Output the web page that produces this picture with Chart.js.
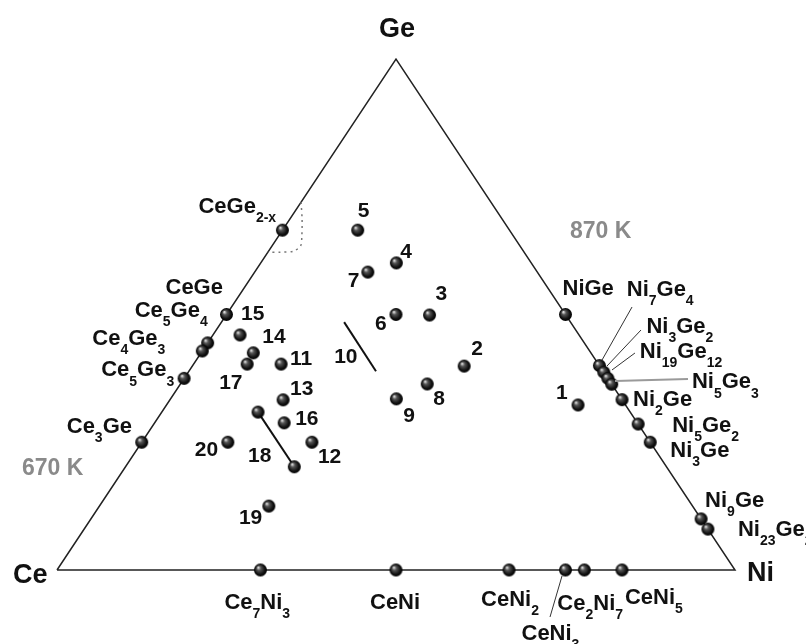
<!DOCTYPE html>
<html>
<head>
<meta charset="utf-8">
<script src="https://cdn.jsdelivr.net/npm/chart.js@4.4.1/dist/chart.umd.min.js"></script>
<style>
  html, body { margin: 0; padding: 0; background: #ffffff; }
  #wrap { width: 806px; height: 644px; }
</style>
</head>
<body>
<div id="wrap"><canvas id="c" width="806" height="644"></canvas></div>
<script>
// ---------------- DATA (mole fractions) ----------------
// Ce–Ge binary compounds: Ge fraction
const ceGeNames = ['CeGe_{2-x}', 'CeGe', 'Ce_5Ge_4', 'Ce_4Ge_3', 'Ce_5Ge_3', 'Ce_3Ge'];
const ceGeGe    = [0.665, 0.5, 0.4444, 0.4286, 0.375, 0.25];
// Ce–Ni binary compounds: Ni fraction
const ceNiNames = ['Ce_7Ni_3', 'CeNi', 'CeNi_2', 'CeNi_3', 'Ce_2Ni_7', 'CeNi_5'];
const ceNiNi    = [0.3, 0.5, 0.6667, 0.75, 0.7778, 0.8333];
// Ni–Ge binary compounds: Ge fraction
const niGeNames = ['NiGe', 'Ni_3Ge_2', 'Ni_{19}Ge_{12}', 'Ni_5Ge_3', 'Ni_7Ge_4', 'Ni_2Ge', 'Ni_5Ge_2', 'Ni_3Ge', 'Ni_9Ge', 'Ni_{23}Ge_2'];
const niGeGe    = [0.5, 0.4, 0.3871, 0.375, 0.3636, 0.3333, 0.2857, 0.25, 0.1, 0.08];
// Ternary samples (Ge, Ni fractions)
const sampleIds = ['1','2','3','4','5','6','7','8','9','11','12','13','14','15','16','17','19','20'];
const sampleGe  = [0.323,0.399,0.499,0.601,0.665,0.500,0.583,0.364,0.335,0.403,0.250,0.333,0.425,0.460,0.288,0.403,0.125,0.250];
const sampleNi  = [0.607,0.401,0.300,0.200,0.111,0.250,0.167,0.364,0.333,0.129,0.251,0.167,0.077,0.040,0.191,0.079,0.250,0.127];
// Sample 10 (tie line, no end points) and sample 18 (tie line with end points)
const sample10Ge = [0.485, 0.389];
const sample10Ni = [0.181, 0.276];
const sample18Ge = [0.309, 0.202];
const sample18Ni = [0.142, 0.249];
// Homogeneity boundary around CeGe2-x (dotted)
const homogGe = [0.720, 0.685, 0.650, 0.635, 0.624, 0.622, 0.622];
const homogNi = [0.000, 0.019, 0.036, 0.042, 0.037, 0.018, 0.000];
// Vertices (Ge, Ni)
const vertexNames = ['Ce', 'Ni', 'Ge'];
const vertexGe = [0, 0, 1];
const vertexNi = [0, 1, 0];
const isothermLabels = ['870 K', '670 K'];

// ---------------- LAYOUT (pixel offsets of labels, separate from data) ----------------
const ceGeLabelOff = [[-84,-17],[-61,-21],[-73,-26],[-110,-6],[-83,-2],[-75,-9]];
const ceNiLabelOff = [[-36,39],[-26,39],[-28,36],[-44,70],[-27,40],[3,34]];
const niGeLabelOff = [[-3,-20],[47,-33],[36,-14],[84,10],[15,-88],[11,6],[34,8],[20,15],[4,-12],[30,7]];
const niGeLeader = { 1:[41.6,-35.6,7.6,0.4], 2:[31.2,-19.2,8.2,-2.2], 3:[7.1,2.6,80.1,0.6], 4:[20.3,-77.2,-9.7,-24.2] };
const ceNiLeader = { 3:[-3.5,6,-15.5,47] };
const sampleLabelOff = [[-22,-6],[7,-11],[6,-15],[4,-5],[0,-13],[-21,15],[-20,15],[6,21],[7,23],[9,1],[6,21],[7,-5],[9,-10],[1,-15],[11,2],[-28,25],[-30,18],[-33,14]];
const label10Off = [-10, 41];
const label18Off = [-10, 50];

function toXY(ge, ni) { return { x: ni + ge / 2, y: ge }; }

const FONT = '"Liberation Sans", Arial, Helvetica, sans-serif';

function makeSphere(r) {
  const s = Math.ceil(r * 2) + 2;
  const c = document.createElement('canvas');
  c.width = s; c.height = s;
  const g = c.getContext('2d');
  const cx = s / 2, cy = s / 2;
  const grad = g.createRadialGradient(cx - r * 0.35, cy - r * 0.4, r * 0.05, cx, cy, r);
  grad.addColorStop(0, '#e6e6e6');
  grad.addColorStop(0.3, '#555');
  grad.addColorStop(0.75, '#111');
  grad.addColorStop(1, '#000');
  g.fillStyle = grad;
  g.beginPath(); g.arc(cx, cy, r, 0, Math.PI * 2); g.fill();
  return c;
}
const sphere = makeSphere(6.5);

const ceGePts = ceGeGe.map(g => toXY(g, 0));
const ceNiPts = ceNiNi.map(n => toXY(0, n));
const niGePts = niGeGe.map(g => toXY(g, 1 - g));
const samplePts = sampleGe.map((g, i) => toXY(g, sampleNi[i]));
const line10Pts = sample10Ge.map((g, i) => toXY(g, sample10Ni[i]));
const line18Pts = sample18Ge.map((g, i) => toXY(g, sample18Ni[i]));
const homogPts = homogGe.map((g, i) => toXY(g, homogNi[i]));
const vertexPts = vertexGe.map((g, i) => toXY(g, vertexNi[i]));
const trianglePts = [vertexPts[0], vertexPts[1], vertexPts[2], vertexPts[0]];

function drawFormula(ctx, str, x, y, size, color) {
  const subSize = Math.round(size * 0.62);
  const subDy = size * 0.42;
  const re = /_\{([^}]*)\}|_(.)|([^_]+)/g;
  let m, cx = x;
  ctx.fillStyle = color;
  ctx.textAlign = 'left';
  ctx.textBaseline = 'alphabetic';
  while ((m = re.exec(str))) {
    if (m[3] !== undefined) {
      ctx.font = 'bold ' + size + 'px ' + FONT;
      ctx.fillText(m[3], cx, y);
      cx += ctx.measureText(m[3]).width;
    } else {
      const t = m[1] !== undefined ? m[1] : m[2];
      ctx.font = 'bold ' + subSize + 'px ' + FONT;
      ctx.fillText(t, cx, y + subDy);
      cx += ctx.measureText(t).width;
    }
  }
}

const labelPlugin = {
  id: 'ternaryLabels',
  afterDatasetsDraw(chart) {
    const ctx = chart.ctx, xs = chart.scales.x, ys = chart.scales.y;
    const px = p => [xs.getPixelForValue(p.x), ys.getPixelForValue(p.y)];
    ctx.save();
    const lead = (p, L, color, w) => {
      const [x, y] = px(p);
      ctx.strokeStyle = color; ctx.lineWidth = w;
      ctx.beginPath(); ctx.moveTo(x + L[0], y + L[1]); ctx.lineTo(x + L[2], y + L[3]); ctx.stroke();
    };
    Object.keys(niGeLeader).forEach(k => {
      const i = +k;
      const isGray = niGeNames[i] === 'Ni_5Ge_3';
      lead(niGePts[i], niGeLeader[k], isGray ? '#9a9a9a' : '#333', isGray ? 2 : 1);
    });
    Object.keys(ceNiLeader).forEach(k => lead(ceNiPts[+k], ceNiLeader[k], '#333', 1));

    const SZ = 22, NSZ = 21;
    ceGeNames.forEach((n, i) => { const [x, y] = px(ceGePts[i]); drawFormula(ctx, n, x + ceGeLabelOff[i][0], y + ceGeLabelOff[i][1], SZ, '#111'); });
    ceNiNames.forEach((n, i) => { const [x, y] = px(ceNiPts[i]); drawFormula(ctx, n, x + ceNiLabelOff[i][0], y + ceNiLabelOff[i][1], SZ, '#111'); });
    niGeNames.forEach((n, i) => { const [x, y] = px(niGePts[i]); drawFormula(ctx, n, x + niGeLabelOff[i][0], y + niGeLabelOff[i][1], SZ, '#111'); });
    sampleIds.forEach((n, i) => { const [x, y] = px(samplePts[i]); drawFormula(ctx, n, x + sampleLabelOff[i][0], y + sampleLabelOff[i][1], NSZ, '#111'); });
    { const [x, y] = px(line10Pts[0]); drawFormula(ctx, '10', x + label10Off[0], y + label10Off[1], NSZ, '#111'); }
    { const [x, y] = px(line18Pts[0]); drawFormula(ctx, '18', x + label18Off[0], y + label18Off[1], NSZ, '#111'); }

    const vOff = [[-44, 13], [12, 11], [-17, -22]];
    vertexNames.forEach((n, i) => { const [x, y] = px(vertexPts[i]); drawFormula(ctx, n, x + vOff[i][0], y + vOff[i][1], 27, '#111'); });
    { const [x, y] = px(vertexPts[2]); drawFormula(ctx, isothermLabels[0], x + 174, y + 179, 23, '#8a8a8a'); }
    { const [x, y] = px(vertexPts[0]); drawFormula(ctx, isothermLabels[1], x - 35, y - 95, 23, '#8a8a8a'); }
    ctx.restore();
  }
};

const pointDS = (data) => ({
  data, showLine: false, pointStyle: sphere, pointRadius: 7, pointHoverRadius: 7, clip: false
});

new Chart(document.getElementById('c'), {
  type: 'scatter',
  data: {
    datasets: [
      pointDS(samplePts),
      pointDS(line18Pts),
      pointDS(ceGePts),
      pointDS(ceNiPts),
      pointDS(niGePts),
      { data: line18Pts, showLine: true, borderColor: '#111', borderWidth: 2, pointRadius: 0, clip: false },
      { data: line10Pts, showLine: true, borderColor: '#111', borderWidth: 2, pointRadius: 0, clip: false },
      { data: homogPts, showLine: true, borderColor: '#777', borderWidth: 1.5, borderDash: [2, 4], pointRadius: 0, tension: 0.3, clip: false },
      { data: trianglePts, showLine: true, borderColor: '#222', borderWidth: 1.5, pointRadius: 0, clip: false }
    ]
  },
  options: {
    responsive: false,
    devicePixelRatio: 1,
    animation: false,
    events: [],
    layout: { padding: { left: 57, right: 71, top: 59, bottom: 74 } },
    scales: {
      x: { type: 'linear', min: 0, max: 1, display: false },
      y: { type: 'linear', min: 0, max: 1, display: false }
    },
    plugins: { legend: { display: false }, tooltip: { enabled: false } }
  },
  plugins: [labelPlugin]
});
</script>
</body>
</html>
